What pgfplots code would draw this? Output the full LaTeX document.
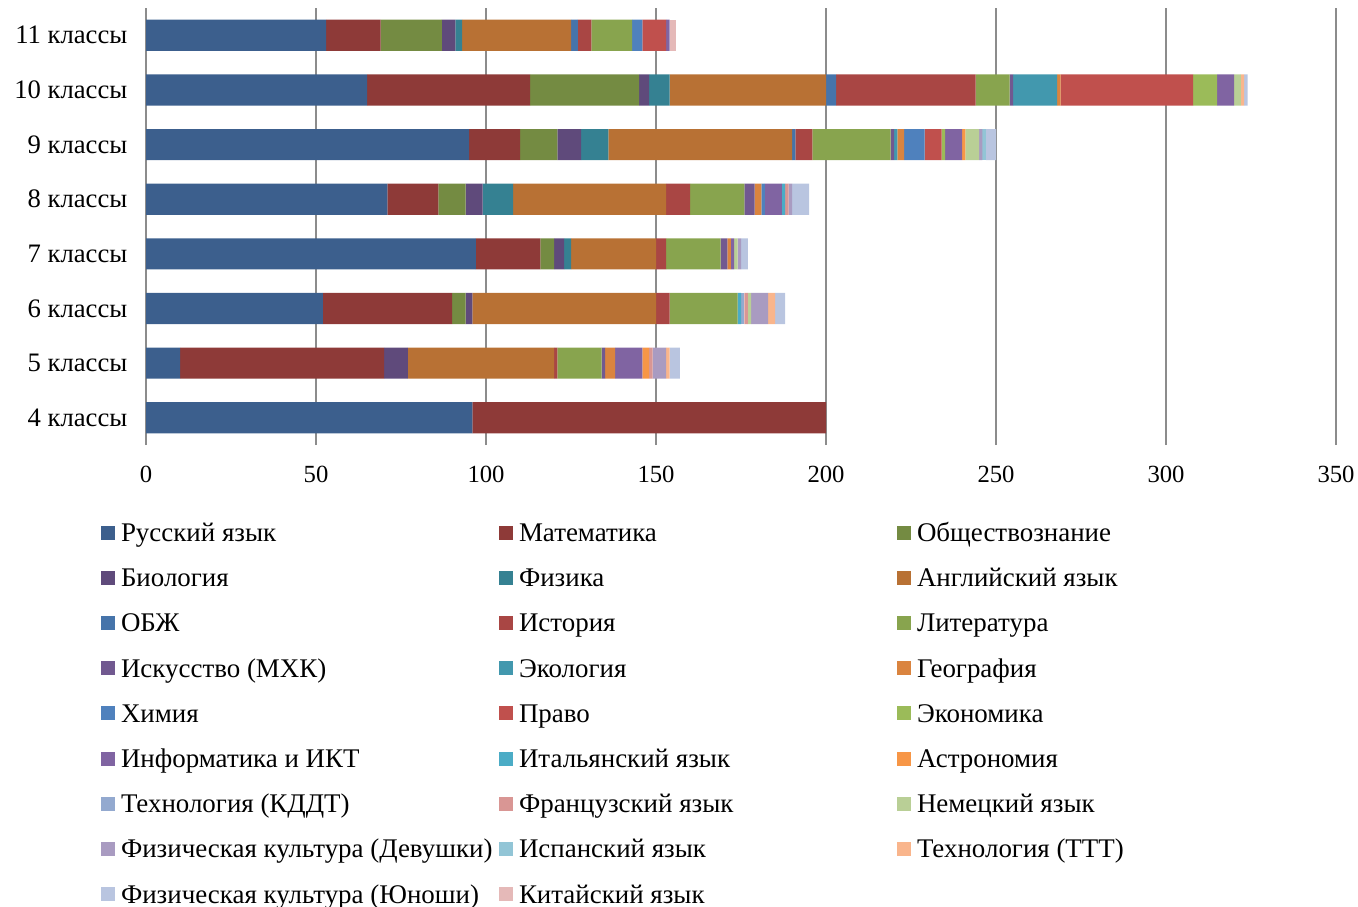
\documentclass[border=0pt]{standalone}
\usepackage{fontspec}
\setmainfont{Liberation Serif}
\usepackage{pgfplots}
\usepackage{pgfplotstable}
\pgfplotsset{compat=1.18}

\definecolor{c1}{HTML}{3C5F8D}
\definecolor{c2}{HTML}{8E3A38}
\definecolor{c3}{HTML}{748B42}
\definecolor{c4}{HTML}{5F4A7B}
\definecolor{c5}{HTML}{358192}
\definecolor{c6}{HTML}{B87134}
\definecolor{c7}{HTML}{4674AA}
\definecolor{c8}{HTML}{A94644}
\definecolor{c9}{HTML}{88A44E}
\definecolor{c10}{HTML}{715990}
\definecolor{c11}{HTML}{4298AE}
\definecolor{c12}{HTML}{DA843F}
\definecolor{c13}{HTML}{4F81BD}
\definecolor{c14}{HTML}{C0504D}
\definecolor{c15}{HTML}{9BBB59}
\definecolor{c16}{HTML}{8064A2}
\definecolor{c17}{HTML}{4BACC6}
\definecolor{c18}{HTML}{F79646}
\definecolor{c19}{HTML}{93A9CF}
\definecolor{c20}{HTML}{D99694}
\definecolor{c21}{HTML}{B9CF96}
\definecolor{c22}{HTML}{A99BC1}
\definecolor{c23}{HTML}{92C5D6}
\definecolor{c24}{HTML}{F9B58C}
\definecolor{c25}{HTML}{B9C5E0}
\definecolor{c26}{HTML}{E5B9B8}
\definecolor{gridgray}{HTML}{8C8C8C}

% rows: 4 ... 11 классы, columns: subjects in legend order
\pgfplotstableread{
y c1 c2 c3 c4 c5 c6 c7 c8 c9 c10 c11 c12 c13 c14 c15 c16 c17 c18 c19 c20 c21 c22 c23 c24 c25 c26
0 96 104 0 0 0 0 0 0 0 0 0 0 0 0 0 0 0 0 0 0 0 0 0 0 0 0
1 10 60 0 7 0 43 0 1 13 1 0 3 0 0 0 8 0 2 0 1 0 4 0 1 3 0
2 52 38 4 2 0 54 0 4 20 0 0 0 0 0 0 0 1 0 1 1 1 5 0 2 3 0
3 97 19 4 3 2 25 0 3 16 2 0 1 0 0 0 1 0 0 0 0 1 1 0 0 2 0
4 71 15 8 5 9 45 0 7 16 3 0 2 1 0 0 5 1 0 0 1 0 1 0 0 5 0
5 95 15 11 7 8 54 1 5 23 1 1 2 6 5 1 5 0 1 0 0 4 1 1 0 3 0
6 65 48 32 3 6 46 3 41 10 1 13 1 0 39 7 5 0 0 0 0 2 0 0 1 1 0
7 53 16 18 4 2 32 2 4 12 0 0 0 3 7 0 1 0 0 0 0 0 0 0 0 0 2
}\data

\newcommand\lt[1]{\makebox[288pt][l]{\hspace*{4.3pt}#1}}

\begin{document}
\begin{tikzpicture}
\useasboundingbox (0,0) rectangle (1018.5pt,-679.5pt);
\begin{axis}[
  at={(109.5pt,-6pt)}, anchor=north west,
  scale only axis, width=892.5pt, height=327.75pt,
  xbar stacked, bar width=0.57,
  xmin=0, xmax=350, ymin=-0.5, ymax=7.5,
  xtick={0,50,...,350}, ytick={0,...,7},
  yticklabels={4 классы,5 классы,6 классы,7 классы,8 классы,9 классы,10 классы,11 классы},
  xmajorgrids,
  major grid style={color=gridgray, line width=1.2pt},
  axis line style={draw=none},
  major tick length=0pt, tick style={draw=none},
  xticklabel style={font=\fontsize{18.5}{22}\selectfont, yshift=-12.6pt},
  yticklabel style={font=\fontsize{20}{24}\selectfont, xshift=-10.5pt},
  /pgf/number format/assume math mode=true,
  legend columns=3,
  legend cell align=left,
  legend style={at={(-0.0378,-0.1738)}, anchor=north west,
    draw=none, fill=none, inner sep=0pt,
    row sep=16.9pt, column sep=0pt,
    font=\fontsize{20.2}{24}\selectfont,
    nodes={inner sep=0pt, text height=15.2pt, text depth=1.8pt}},
  legend image code/.code={\fill[#1] (0pt,-5.25pt) rectangle (10.5pt,5.25pt);},
  every axis plot/.append style={draw=none},
]
\addplot[fill=c1] table[x=c1,y=y]{\data}; \addlegendentry{\lt{Русский язык}}
\addplot[fill=c2] table[x=c2,y=y]{\data}; \addlegendentry{\lt{Математика}}
\addplot[fill=c3] table[x=c3,y=y]{\data}; \addlegendentry{\lt{Обществознание}}
\addplot[fill=c4] table[x=c4,y=y]{\data}; \addlegendentry{\lt{Биология}}
\addplot[fill=c5] table[x=c5,y=y]{\data}; \addlegendentry{\lt{Физика}}
\addplot[fill=c6] table[x=c6,y=y]{\data}; \addlegendentry{\lt{Английский язык}}
\addplot[fill=c7] table[x=c7,y=y]{\data}; \addlegendentry{\lt{ОБЖ}}
\addplot[fill=c8] table[x=c8,y=y]{\data}; \addlegendentry{\lt{История}}
\addplot[fill=c9] table[x=c9,y=y]{\data}; \addlegendentry{\lt{Литература}}
\addplot[fill=c10] table[x=c10,y=y]{\data}; \addlegendentry{\lt{Искусство (МХК)}}
\addplot[fill=c11] table[x=c11,y=y]{\data}; \addlegendentry{\lt{Экология}}
\addplot[fill=c12] table[x=c12,y=y]{\data}; \addlegendentry{\lt{География}}
\addplot[fill=c13] table[x=c13,y=y]{\data}; \addlegendentry{\lt{Химия}}
\addplot[fill=c14] table[x=c14,y=y]{\data}; \addlegendentry{\lt{Право}}
\addplot[fill=c15] table[x=c15,y=y]{\data}; \addlegendentry{\lt{Экономика}}
\addplot[fill=c16] table[x=c16,y=y]{\data}; \addlegendentry{\lt{Информатика и ИКТ}}
\addplot[fill=c17] table[x=c17,y=y]{\data}; \addlegendentry{\lt{Итальянский язык}}
\addplot[fill=c18] table[x=c18,y=y]{\data}; \addlegendentry{\lt{Астрономия}}
\addplot[fill=c19] table[x=c19,y=y]{\data}; \addlegendentry{\lt{Технология (КДДТ)}}
\addplot[fill=c20] table[x=c20,y=y]{\data}; \addlegendentry{\lt{Французский язык}}
\addplot[fill=c21] table[x=c21,y=y]{\data}; \addlegendentry{\lt{Немецкий язык}}
\addplot[fill=c22] table[x=c22,y=y]{\data}; \addlegendentry{\lt{Физическая культура (Девушки)}}
\addplot[fill=c23] table[x=c23,y=y]{\data}; \addlegendentry{\lt{Испанский язык}}
\addplot[fill=c24] table[x=c24,y=y]{\data}; \addlegendentry{\lt{Технология (ТТТ)}}
\addplot[fill=c25] table[x=c25,y=y]{\data}; \addlegendentry{\lt{Физическая культура (Юноши)}}
\addplot[fill=c26] table[x=c26,y=y]{\data}; \addlegendentry{\lt{Китайский язык}}
\end{axis}
\end{tikzpicture}
\end{document}
